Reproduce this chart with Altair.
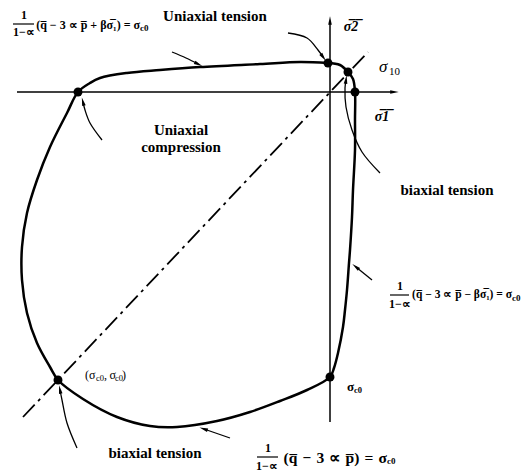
import math

import altair as alt
import pandas as pd

# Effective stress plane (σ̄1, σ̄2); origin at the crossing of the two axes.
# Yield surface of the damaged-plasticity model, traced once around.
surface_s1 = [-2, 10, 18, 23, 25, 25, 25, 23, 22, 20, 19, 17, 15, 13, 8, 4, 0,
              -23, -50, -80, -113, -153, -180, -213, -247, -272,
              -280, -293, -303, -308, -308, -303, -293, -280, -263, -252,
              -240, -230, -203, -170, -130, -70, -30, -2]
surface_s2 = [29, 27, 20, 13, 0, -28, -58, -98, -125, -158, -171, -198, -218, -235,
              -261, -276, -285,
              -298, -309, -320, -329, -335, -334, -325, -307, -288,
              -275, -251, -221, -188, -155, -121, -88, -55, -21, 0,
              9, 14, 19, 22, 25, 28, 30, 29]

# Characteristic points on the surface
key_names = ["uniaxial tension", "sigma10", "s1 axis", "uniaxial compression",
             "biaxial compression", "s2 axis"]
key_s1 = [-2, 18, 25, -252, -272, 0]
key_s2 = [29, 20, 0, 0, -288, -285]

# Coordinate axes
axis_s1 = {"sigma1": [-313, 64], "sigma2": [0, 0]}
axis_s2 = {"sigma1": [0, 0], "sigma2": [-330, 71]}

# Equal-biaxial diagonal σ̄1 = σ̄2
diag_s1 = [-307, 38]
diag_s2 = [-325, 40]

# Leader arrows (tail first, head last)
arrows = {
    "tension": ([-42, -23, -12, -7], [59, 54, 42, 35]),
    "top": ([-158, -144, -132], [40, 34, 28]),
    "compression": ([-228, -240, -245, -247], [-48, -31, -18, -10]),
    "biaxial": ([50, 32, 22, 16, 15, 16], [-81, -60, -38, -15, 4, 12]),
    "right": ([42, 26], [-188, -175]),
    "bottom": ([-100, -126], [-346, -337]),
    "biaxial comp": ([-253, -263, -268, -270], [-356, -331, -308, -298]),
}

X_DOMAIN = [-330, 194]
Y_DOMAIN = [-382, 92]
SERIF = "Liberation Serif"

x_enc = alt.X("s1:Q", scale=alt.Scale(domain=X_DOMAIN), axis=None)
y_enc = alt.Y("s2:Q", scale=alt.Scale(domain=Y_DOMAIN), axis=None)


def path_frame(name, xs, ys):
    return pd.DataFrame({"s1": xs, "s2": ys, "name": name,
                         "order": list(range(len(xs)))})


def line_layer(df, **mark):
    return alt.Chart(df).mark_line(color="black", **mark).encode(
        x=x_enc, y=y_enc, detail="name:N", order="order:Q")


axes_df = pd.concat([
    path_frame("s1", axis_s1["sigma1"], axis_s1["sigma2"]),
    path_frame("s2", axis_s2["sigma1"], axis_s2["sigma2"]),
])
diag_df = path_frame("diag", diag_s1, diag_s2)
surface_df = path_frame("surface", surface_s1, surface_s2)
arrow_df = pd.concat([path_frame(k, v[0], v[1]) for k, v in arrows.items()])

# Arrowheads: oriented along the last segment of each leader, plus the axis tips
head_rows = []
for k, (xs, ys) in arrows.items():
    dx, dy = xs[-1] - xs[-2], ys[-1] - ys[-2]
    head_rows.append({"s1": xs[-1], "s2": ys[-1],
                      "angle": math.degrees(math.atan2(dx, dy)) % 360, "kind": "leader"})
head_rows.append({"s1": axis_s1["sigma1"][1], "s2": 0, "angle": 90, "kind": "axis"})
head_rows.append({"s1": 0, "s2": axis_s2["sigma2"][1], "angle": 0, "kind": "axis"})
heads_df = pd.DataFrame(head_rows)

ARROW_SHAPE = "M0,-1L0.38,0.8L-0.38,0.8Z"

heads = alt.Chart(heads_df).mark_point(
    shape=ARROW_SHAPE, filled=True, color="black", opacity=1, size=90
).encode(x=x_enc, y=y_enc, angle=alt.Angle("angle:Q", scale=None))

keys_df = pd.DataFrame({"s1": key_s1, "s2": key_s2, "name": key_names})
keys = alt.Chart(keys_df).mark_circle(color="black", opacity=1, size=80).encode(
    x=x_enc, y=y_enc)

# Fraction bars of the three yield-function expressions
bars_df = pd.DataFrame({"s1": [-317, 60, -73], "s1_end": [-296, 79, -52],
                        "s2": [68, -203, -365]})
bars = alt.Chart(bars_df).mark_rule(color="black", strokeWidth=1.2).encode(
    x=x_enc, x2="s1_end:Q", y=y_enc)


def text_layer(rows, size, weight="normal", style="normal", align="center"):
    df = pd.DataFrame(rows, columns=["s1", "s2", "label"])
    return alt.Chart(df).mark_text(
        font=SERIF, fontSize=size, fontWeight=weight, fontStyle=style,
        align=align, baseline="middle", color="black"
    ).encode(x=x_enc, y=y_enc, text="label:N")


OL = "\u0305"  # combining overline
SP = "\u2004"  # three-per-em space, for the more loosely set expression

labels = text_layer([
    (-115, 76, "Uniaxial tension"),
    (-149, -38, "Uniaxial"),
    (-149, -55, "compression"),
    (117, -98, "biaxial tension"),
    (-175, -361, "biaxial tension"),
], 15, weight="bold")

frac_nums = text_layer([
    (-306, 77, "1"), (-306, 60, "1\u2212\u221d"),
    (70, -194, "1"), (70, -212, "1\u2212\u221d"),
    (-62, -356, "1"), (-63, -374, "1\u2212\u221d"),
], 12, weight="bold")

body_top = text_layer([
    (-190, 67, f"(q{OL} \u2212 3 \u221d p{OL} + \u03b2\u03c3{OL}\u2081) = \u03c3"),
], 12, weight="bold", align="right")
body_right = text_layer([
    (182, -203, f"(q{OL} \u2212 3 \u221d p{OL} \u2212 \u03b2\u03c3{OL}\u2081) = \u03c3"),
], 11.5, weight="bold", align="right")
body_bottom = text_layer([
    (57, -366, f"(q{OL}{SP}\u2212{SP}3{SP}\u221d{SP}p{OL}){SP}={SP}\u03c3"),
], 15.5, weight="bold", align="right")

subs = text_layer([
    (-190, 64, "c0"), (182, -206, "c0"), (57, -369, "c0"),
], 9, weight="bold", align="left")

axis_names = text_layer([
    (21, 65, f"\u03c3{OL}2{OL}"),
    (52, -25, f"\u03c3{OL}1{OL}"),
], 14, weight="bold", style="italic")

sigma10 = text_layer([(49, 25, "\u03c3")], 17, style="italic", align="left")
sigma10_sub = text_layer([(59, 20, "10")], 11, align="left")

# Coordinates of the equal-biaxial point and the σ̄2-axis intercept
pair_main = text_layer([
    (-245, -283, "(\u03c3"), (-226, -283, ",\u2009\u03c3"), (-208, -283, ")"),
], 12, align="left")
pair_sub = text_layer([
    (-234, -286, "c0"), (-215, -286, "c0"),
], 8.5, align="left")
s2_int = text_layer([(17, -295, "\u03c3")], 13, weight="bold", align="left")
s2_int_sub = text_layer([(24, -298, "c0")], 8.5, weight="bold", align="left")

chart = alt.layer(
    line_layer(axes_df, strokeWidth=1.5),
    line_layer(diag_df, strokeWidth=1.8, strokeDash=[17, 5, 3, 5]),
    line_layer(arrow_df, strokeWidth=1.3, interpolate="catmull-rom"),
    line_layer(surface_df, strokeWidth=2.5, interpolate="catmull-rom"),
    heads, keys, bars,
    labels, frac_nums, body_top, body_right, body_bottom, subs, axis_names,
    sigma10, sigma10_sub, pair_main, pair_sub, s2_int, s2_int_sub,
).properties(
    width=524, height=474, padding=0,
    autosize=alt.AutoSizeParams(type="none"),
    background="white",
).configure_view(stroke=None)

chart.save("out.html", embed_options={"renderer": "svg", "actions": False})
